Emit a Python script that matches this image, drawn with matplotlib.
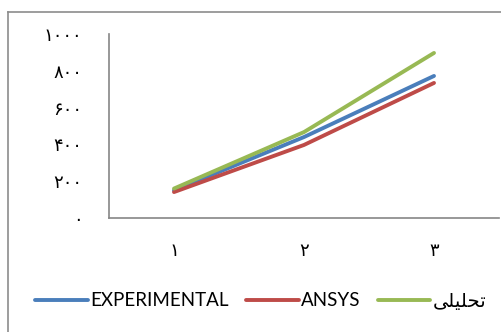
import matplotlib
matplotlib.use("Agg")
import matplotlib.pyplot as plt
from matplotlib.lines import Line2D

categories = ["\u06f1", "\u06f2", "\u06f3"]
experimental = [150, 440, 772]
ansys = [141, 397, 734]
analytic = [160, 467, 897]
yticks = [0, 200, 400, 600, 800, 1000]
ytick_labels = ["\u06f0", "\u06f2\u06f0\u06f0", "\u06f4\u06f0\u06f0",
                "\u06f6\u06f0\u06f0", "\u06f8\u06f0\u06f0", "\u06f1\u06f0\u06f0\u06f0"]
# "تحلیلی" in presentation forms, visual order (matplotlib does no shaping)
analytic_label = "\ufbfd\ufee0\ufbff\ufee0\ufea4\ufe97"

W, H = 502, 332
fig = plt.figure(figsize=(W / 100, H / 100), dpi=100)

# outer chart frame (only left/top edges are inside the picture)
fig.add_artist(Line2D([8 / W, 8 / W], [0, 1 - 12 / H], color="#8c8c8c", lw=1.2,
                      transform=fig.transFigure))
fig.add_artist(Line2D([8 / W, 1], [1 - 12 / H, 1 - 12 / H], color="#8c8c8c", lw=1.2,
                      transform=fig.transFigure))

ax = fig.add_axes([109 / W, 1 - 218 / H, 390 / W, 184 / H])
x = range(len(categories))
ax.plot(x, experimental, color="#4a7ebb", lw=2.8, solid_capstyle="round",
        label="EXPERIMENTAL")
ax.plot(x, ansys, color="#be4b48", lw=2.8, solid_capstyle="round", label="ANSYS")
ax.plot(x, analytic, color="#98b954", lw=2.8, solid_capstyle="round",
        label=analytic_label)

ax.set_xlim(-0.5, len(categories) - 0.5)
ax.set_ylim(0, 1000)
ax.set_xticks(list(x))
ax.set_xticklabels(categories, family="DejaVu Sans", fontsize=13)
ax.set_yticks(yticks)
ax.set_yticklabels(ytick_labels, family="DejaVu Sans", fontsize=13)
ax.tick_params(axis="both", length=0)
ax.tick_params(axis="y", pad=19)
ax.tick_params(axis="x", pad=17)
for side in ["top", "right"]:
    ax.spines[side].set_visible(False)
for side in ["left", "bottom"]:
    ax.spines[side].set_color("#868686")
    ax.spines[side].set_linewidth(1.2)

handles, labels = ax.get_legend_handles_labels()
leg = fig.legend(handles, labels, loc="center", bbox_to_anchor=(261 / W, 1 - 301 / H),
                 ncol=3, frameon=False, handlelength=2.8, handletextpad=0.15,
                 columnspacing=0.9, prop={"family": ["Lato", "DejaVu Sans"], "size": 13.5})
for t in leg.get_texts():
    if t.get_text() == analytic_label:
        t.set_family("DejaVu Sans")
        t.set_fontsize(14)

fig.savefig("out.png", dpi=100)
